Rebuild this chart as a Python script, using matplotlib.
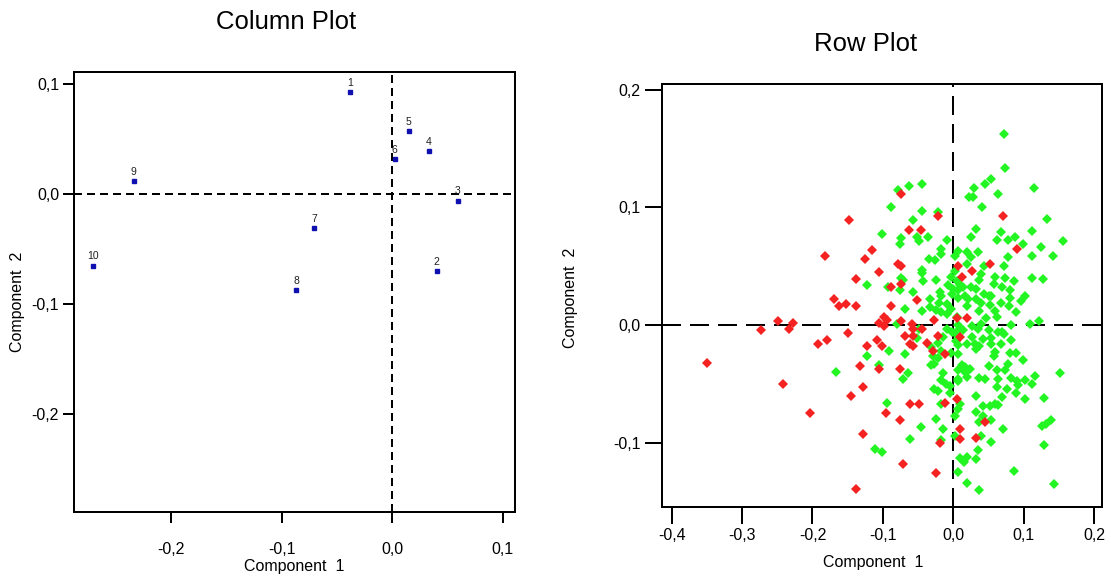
import matplotlib
matplotlib.use("Agg")
import matplotlib.pyplot as plt
from matplotlib.ticker import FuncFormatter, FixedLocator

plt.rcParams['font.family'] = ['Liberation Sans', 'DejaVu Sans']

# ---- Column plot data ----
col_labels = ['1', '2', '3', '4', '5', '6', '7', '8', '9', '10']
col_x = [-0.038, 0.040, 0.059, 0.033, 0.015, 0.002, -0.071, -0.087, -0.234, -0.271]
col_y = [0.093, -0.070, -0.006, 0.039, 0.057, 0.032, -0.031, -0.087, 0.012, -0.065]

# ---- Row plot data ----
red_x = [-0.148, -0.182, -0.116, -0.125, -0.105, -0.138, -0.170, -0.163, -0.152, -0.138,
         -0.249, -0.227, -0.234, -0.273, -0.106, -0.349, -0.192, -0.180, -0.150, -0.123,
         -0.108, -0.133, -0.105, -0.242, -0.128, -0.145, -0.204, -0.128, -0.138,
         -0.074, -0.022, 0.070,
         -0.063, -0.046, -0.078, -0.074, -0.089, -0.074, -0.052, -0.089, 0.007,
         0.091, 0.052, 0.027, 0.012,
         -0.098, -0.094, -0.098, -0.074, -0.059, -0.057, -0.044, -0.027, -0.069, -0.057,
         -0.101, -0.061, -0.057, -0.037, -0.022, -0.029, -0.012, -0.076,
         0.005, 0.020, 0.010, 0.005,
         -0.061, -0.049, -0.096, -0.076, -0.012, -0.019, -0.071, -0.024,
         0.010, 0.010, 0.032, 0.045]
red_y = [0.089, 0.059, 0.064, 0.056, 0.045, 0.039, 0.022, 0.016, 0.018, 0.016,
         0.003, 0.002, -0.003, -0.004, 0.002, -0.032, -0.016, -0.013, -0.007, -0.018,
         -0.013, -0.035, -0.037, -0.050, -0.053, -0.060, -0.075, -0.093, -0.139,
         0.111, 0.093, 0.093,
         0.081, 0.081, 0.052, 0.050, 0.032, 0.035, 0.021, 0.016, 0.050,
         0.065, 0.052, 0.046, 0.041,
         0.007, 0.004, -0.001, 0.003, 0.001, -0.003, -0.003, 0.004, -0.009, -0.009,
         -0.018, -0.016, -0.018, -0.015, -0.009, -0.022, -0.025, -0.037,
         0.006, 0.006, -0.010, -0.063,
         -0.067, -0.067, -0.075, -0.081, -0.066, -0.100, -0.118, -0.126,
         -0.088, -0.097, -0.096, -0.082]

green_x = [-0.123, -0.101, -0.167, -0.123, -0.105, -0.111, -0.101,
           0.072, 0.074, 0.114, 0.053, 0.045, 0.030, 0.022, 0.028, 0.064, 0.040,
           -0.044, -0.063, -0.078, -0.088, -0.044, -0.022, -0.057, 0.133,
           -0.074, -0.076, -0.052, -0.049, -0.036, -0.009, -0.017, -0.017, -0.034, -0.026,
           0.003, -0.044, -0.044, 0.003, -0.003, -0.074, -0.071, -0.025, -0.043, -0.007,
           -0.093, -0.076, -0.057, -0.019, -0.017, -0.002, -0.033, -0.020, -0.009, -0.033,
           -0.024, -0.044, -0.069, -0.003, 0.000,
           0.032, 0.025, 0.067, 0.062, 0.077, 0.087, 0.111, 0.099, 0.125, 0.007,
           0.019, 0.035, 0.025, 0.077, 0.111, 0.044, 0.072, 0.020, 0.039, 0.059,
           0.074, 0.111, 0.127, 0.037, 0.086, 0.057, 0.005, 0.010, 0.014, 0.007,
           0.025, 0.032, 0.069, 0.081, 0.101, 0.044, 0.050, 0.054, 0.017, 0.021,
           0.007, 0.032, 0.039, 0.067, 0.081, 0.096, 0.019, 0.052, 0.059, 0.079,
           0.037, 0.089,
           0.156, 0.141, 0.121, 0.109, 0.082,
           -0.080, -0.049, -0.017, -0.009, 0.005, -0.009, -0.002, 0.002, -0.015, 0.006,
           -0.051, -0.022, -0.091, -0.069, -0.032, -0.017, -0.029, -0.022, -0.003, -0.032,
           -0.027, -0.064, -0.071, -0.014, -0.017, -0.011, -0.005, -0.027, -0.022, -0.005,
           0.006, 0.004,
           0.047, 0.062, 0.027, 0.035, 0.039, 0.010, 0.014, 0.064, 0.069, 0.072,
           0.050, 0.027, 0.042, 0.054, 0.082, 0.037, 0.031, 0.032, 0.007, 0.020,
           0.054, 0.067, 0.081, 0.059, 0.057, 0.007, 0.089, 0.099, 0.077, 0.012,
           0.017, 0.021, 0.017, 0.024, 0.007, 0.050, 0.062, 0.073, 0.116, 0.020,
           0.007, 0.037, 0.045, 0.064, 0.082, 0.090, 0.092, 0.101, 0.111, 0.062,
           0.076, 0.089, 0.032, 0.069,
           0.151, 0.128, 0.101,
           -0.094, -0.017, -0.024, -0.046, -0.014, 0.003, -0.061, -0.017, 0.003, 0.007,
           0.010, 0.007, 0.032, 0.042, 0.052, 0.059, 0.064, 0.042, 0.037, 0.054,
           0.070, 0.126, 0.039, 0.054, 0.035, 0.010, 0.015, 0.020, 0.032, 0.086,
           0.129, 0.020,
           0.139, 0.132, 0.143, 0.037]
green_y = [0.034, 0.077, -0.040, -0.026, -0.034, -0.105, -0.108,
           0.162, 0.133, 0.116, 0.124, 0.120, 0.116, 0.109, 0.109, 0.111, 0.100,
           0.120, 0.118, 0.115, 0.100, 0.097, 0.096, 0.089, 0.090,
           0.074, 0.069, 0.075, 0.071, 0.075, 0.072, 0.065, 0.060, 0.056, 0.055,
           0.059, 0.047, 0.044, 0.046, 0.041, 0.040, 0.038, 0.038, 0.037, 0.034,
           0.032, 0.030, 0.028, 0.028, 0.025, 0.026, 0.022, 0.019, 0.018, 0.015,
           0.013, 0.012, 0.014, 0.014, 0.031,
           0.082, 0.075, 0.079, 0.072, 0.072, 0.075, 0.080, 0.069, 0.066, 0.063,
           0.062, 0.062, 0.058, 0.058, 0.059, 0.050, 0.050, 0.052, 0.043, 0.041,
           0.040, 0.040, 0.039, 0.038, 0.037, 0.035, 0.037, 0.034, 0.032, 0.030,
           0.032, 0.031, 0.032, 0.030, 0.025, 0.026, 0.025, 0.025, 0.025, 0.022,
           0.023, 0.022, 0.019, 0.019, 0.023, 0.020, 0.016, 0.017, 0.012, 0.016,
           0.012, 0.011,
           0.071, 0.059, 0.003, 0.001, 0.000,
           0.001, -0.003, 0.011, 0.009, 0.007, -0.003, -0.006, -0.007, -0.010, 0.000,
           -0.011, -0.015, -0.022, -0.025, -0.019, -0.022, -0.026, -0.028, -0.024, -0.034,
           -0.033, -0.041, -0.046, -0.041, -0.047, -0.050, -0.052, -0.054, -0.056, -0.058,
           -0.048, -0.014,
           0.006, 0.007, -0.001, -0.003, 0.001, -0.003, -0.004, -0.006, -0.006, -0.008,
           -0.004, -0.010, -0.012, -0.011, -0.013, -0.018, -0.016, -0.020, -0.017, -0.016,
           -0.016, -0.016, -0.024, -0.023, -0.026, -0.025, -0.024, -0.030, -0.033, -0.034,
           -0.036, -0.038, -0.040, -0.037, -0.038, -0.035, -0.038, -0.038, -0.043, -0.044,
           -0.046, -0.045, -0.046, -0.046, -0.045, -0.048, -0.051, -0.047, -0.050, -0.053,
           -0.054, -0.058, -0.060, -0.061,
           -0.041, -0.062, -0.063,
           -0.066, -0.067, -0.080, -0.087, -0.088, -0.077, -0.097, -0.098, -0.094, -0.125,
           -0.067, -0.071, -0.074, -0.069, -0.069, -0.067, -0.068, -0.077, -0.082, -0.081,
           -0.088, -0.086, -0.094, -0.099, -0.106, -0.113, -0.116, -0.112, -0.114, -0.124,
           -0.102, -0.134,
           -0.081, -0.084, -0.135, -0.140]

col_xticks = [-0.2, -0.1, 0.0, 0.1]
col_yticks = [-0.2, -0.1, 0.0, 0.1]
row_xticks = [-0.4, -0.3, -0.2, -0.1, 0.0, 0.1, 0.2]
row_yticks = [-0.1, 0.0, 0.1, 0.2]


def comma(v, pos=None):
    s = f"{v:.1f}"
    if s == "-0.0":
        s = "0.0"
    return s.replace('.', ',')


W, H = 1111, 576
fig = plt.figure(figsize=(W / 100, H / 100), dpi=100)

def px_axes(l, t, r, b):
    return fig.add_axes([l / W, 1 - b / H, (r - l) / W, (b - t) / H])

ax1 = px_axes(74.3, 71.7, 515, 511.7)
ax2 = px_axes(661.7, 84, 1102, 506.7)

LW = 1.44
for ax in (ax1, ax2):
    for sp in ax.spines.values():
        sp.set_linewidth(LW)
    ax.xaxis.set_major_formatter(FuncFormatter(comma))
    ax.yaxis.set_major_formatter(FuncFormatter(comma))

# Column plot
ax1.set_xlim(-0.2878, 0.111)
ax1.set_ylim(-0.2888, 0.1112)
ax1.xaxis.set_major_locator(FixedLocator(col_xticks))
ax1.yaxis.set_major_locator(FixedLocator(col_yticks))
ax1.axhline(0, color='black', lw=LW, linestyle=(0, (4, 2.5)), zorder=1)
ax1.axvline(0, color='black', lw=LW, linestyle=(0, (4, 2.5)), zorder=1)
ax1.plot(col_x, col_y, linestyle='none', marker='s', markersize=2.6,
         color='#1010b0', zorder=3)
for lab, x, y in zip(col_labels, col_x, col_y):
    ax1.annotate(lab, (x, y), xytext=(0, 3), textcoords='offset points',
                 ha='center', va='bottom', fontsize=7.5, color='#202020')
ax1.tick_params(direction='out', length=8, width=LW, labelsize=11.5, colors='black')
ax1.tick_params(axis='x', pad=14)
ax1.tick_params(axis='y', pad=3)

# Row plot
ax2.set_xlim(-0.414, 0.211)
ax2.set_ylim(-0.1544, 0.2048)
ax2.xaxis.set_major_locator(FixedLocator(row_xticks))
ax2.yaxis.set_major_locator(FixedLocator(row_yticks))
ax2.axhline(0, color='black', lw=LW, linestyle=(0, (9.5, 4.5)), zorder=1)
ax2.axvline(0, color='black', lw=LW, linestyle=(0, (9.5, 4.5)), zorder=1)
ax2.plot(green_x, green_y, linestyle='none', marker='D', markersize=4.8,
         color='#22f522', markeredgewidth=0, zorder=2)
ax2.plot(red_x, red_y, linestyle='none', marker='D', markersize=4.8,
         color='#f52222', markeredgewidth=0, zorder=3)
ax2.tick_params(direction='out', length=12, width=LW, labelsize=11.5, colors='black')
ax2.tick_params(axis='x', pad=3)
ax2.tick_params(axis='y', pad=3)

# Titles and axis labels
fig.text(286 / W, 1 - 22 / H, 'Column Plot', ha='center', va='center', fontsize=18.5)
fig.text(866 / W, 1 - 44 / H, 'Row Plot', ha='center', va='center', fontsize=18.5)
fig.text(294 / W, 1 - 566 / H, 'Component  1', ha='center', va='center', fontsize=11.5)
fig.text(873 / W, 1 - 563 / H, 'Component  1', ha='center', va='center', fontsize=11.5)
fig.text(18 / W, 1 - 302 / H, 'Component  2', ha='center', va='center', rotation=90, fontsize=11.5)
fig.text(570 / W, 1 - 298 / H, 'Component  2', ha='center', va='center', rotation=90, fontsize=11.5)

fig.savefig('out.png', dpi=100)
